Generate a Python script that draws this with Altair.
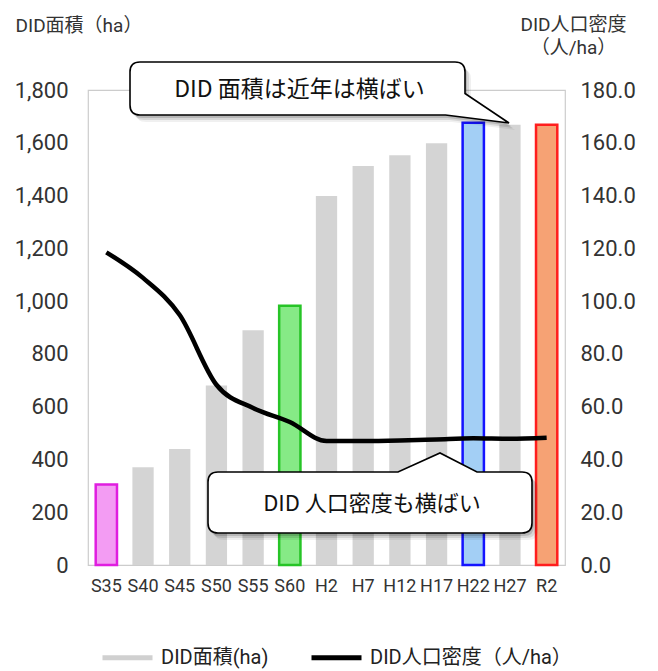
import altair as alt
import pandas as pd

# Survey years (Showa / Heisei / Reiwa)
periods = ["S35", "S40", "S45", "S50", "S55", "S60", "H2", "H7", "H12", "H17", "H22", "H27", "R2"]
# DID area (ha)
area = [305, 370, 440, 680, 890, 982, 1398, 1512, 1553, 1598, 1676, 1668, 1668]
# DID population density (persons/ha)
density = [118.5, 108.8, 94.7, 68.3, 59.5, 54.2, 47.0, 47.0, 47.2, 47.6, 48.0, 47.8, 48.2]

# Highlighted years get their own fill / outline
bar_fill = ["#f39cf3", "#d4d4d4", "#d4d4d4", "#d4d4d4", "#d4d4d4", "#86ea86", "#d4d4d4",
            "#d4d4d4", "#d4d4d4", "#d4d4d4", "#a3cff5", "#d4d4d4", "#f6a274"]
bar_stroke = ["#e01ee0", "#d4d4d4", "#d4d4d4", "#d4d4d4", "#d4d4d4", "#26c426", "#d4d4d4",
              "#d4d4d4", "#d4d4d4", "#d4d4d4", "#1414ff", "#d4d4d4", "#ff1e1e"]
bar_sw = [2.5, 0, 0, 0, 0, 2.5, 0, 0, 0, 0, 2.5, 0, 2.5]

area_label = "DID面積(ha)"
density_label = "DID人口密度（人/ha）"

df = pd.DataFrame({
    "period": periods,
    "area": area,
    "density": density,
    "fill": bar_fill,
    "stroke": bar_stroke,
    "sw": bar_sw,
    "series": density_label,
})

LABEL_FONT = "Roboto, Noto Sans CJK JP, sans-serif"
JP_FONT = "Noto Sans CJK JP, sans-serif"

x = alt.X(
    "period:N",
    sort=periods,
    scale=alt.Scale(paddingInner=0.42, paddingOuter=0.21),
    axis=alt.Axis(title=None, labelAngle=0, labelFontSize=18, labelFont=LABEL_FONT,
                  labelColor="#333333", labelPadding=12, ticks=False, domain=False),
)

bars = alt.Chart(df).mark_bar().encode(
    x=x,
    y=alt.Y(
        "area:Q",
        scale=alt.Scale(domain=[0, 1800], nice=False),
        axis=alt.Axis(
            orient="left", values=list(range(0, 1801, 200)), format=",d",
            labelFontSize=22, labelFont=LABEL_FONT, labelColor="#333333",
            labelPadding=20, ticks=False, domain=False, grid=False,
            title="DID面積（ha）", titleAngle=0, titleX=-73, titleY=-65,
            titleAlign="left", titleBaseline="middle", titleFontSize=19,
            titleFont=LABEL_FONT, titleFontWeight="normal", titleColor="#333333",
        ),
    ),
    fill=alt.Fill("fill:N", scale=None),
    stroke=alt.Stroke("stroke:N", scale=None),
    strokeWidth=alt.StrokeWidth("sw:Q", scale=None),
)

line = alt.Chart(df).mark_line(strokeWidth=4.5, interpolate="monotone").encode(
    x=x,
    y=alt.Y(
        "density:Q",
        scale=alt.Scale(domain=[0, 180], nice=False),
        axis=alt.Axis(
            orient="right", values=list(range(0, 181, 20)), format=".1f",
            labelFontSize=22, labelFont=LABEL_FONT, labelColor="#333333",
            labelPadding=15, ticks=False, domain=False, grid=False,
            title=["DID人口密度", "（人/ha）"], titleAngle=0, titleX=8, titleY=-75,
            titleAlign="center", titleBaseline="top", titleFontSize=19,
            titleLineHeight=23, titleFont=LABEL_FONT, titleFontWeight="normal",
            titleColor="#333333",
        ),
    ),
    color=alt.Color(
        "series:N",
        scale=alt.Scale(domain=[area_label, density_label], range=["#d0d0d0", "#000000"]),
        legend=alt.Legend(
            title=None, orient="none", direction="horizontal", legendX=12, legendY=540,
            symbolType="stroke", symbolSize=2500, symbolStrokeWidth=5,
            labelFontSize=20, labelFont=LABEL_FONT, labelColor="#222222",
            labelOffset=6, columnPadding=32, labelLimit=400, padding=0,
        ),
    ),
)

# Callout outlines, drawn in pixels around each box centre (size=4 -> 1 unit = 1 px)
top_box = ("M -157.5 -26.5 L 157.5 -26.5 Q 167.5 -26.5 167.5 -16.5 L 167.5 5 "
           "L 211.5 34.5 L 148 26.5 L -157.5 26.5 Q -167.5 26.5 -167.5 16.5 "
           "L -167.5 -16.5 Q -167.5 -26.5 -157.5 -26.5 Z")
bottom_box = ("M -152 -30.5 L 28 -30.5 L 70 -49.5 L 107 -30.5 L 152 -30.5 "
              "Q 162 -30.5 162 -20.5 L 162 20.5 Q 162 30.5 152 30.5 L -152 30.5 "
              "Q -162 30.5 -162 20.5 L -162 -20.5 Q -162 -30.5 -152 -30.5 Z")


def callout(path, cx, cy, text, fs):
    base = alt.Chart(df.head(1))
    layers = []
    for dx, dy, op in [(6, 7, 0.06), (4, 5, 0.10), (2, 3, 0.14)]:
        layers.append(base.mark_point(shape=path, size=4, filled=True, fill="#000000",
                                      strokeWidth=0, opacity=op)
                      .encode(x=alt.value(cx + dx), y=alt.value(cy + dy)))
    layers.append(base.mark_point(shape=path, size=4, filled=True, fill="white",
                                  stroke="black", strokeWidth=1.6, opacity=1)
                  .encode(x=alt.value(cx), y=alt.value(cy)))
    layers.append(base.mark_text(text=text, font=JP_FONT, fontSize=fs, color="#111111",
                                 align="center", baseline="middle")
                  .encode(x=alt.value(cx + 2), y=alt.value(cy + 1)))
    return layers


notes = (callout(top_box, 209.5, -1.5, "DID 面積は近年は横ばい", 23)
         + callout(bottom_box, 282, 412.5, "DID 人口密度も横ばい", 22))

chart = alt.layer(bars, line, *notes).resolve_scale(y="independent").properties(
    width=477,
    height=475,
    autosize=alt.AutoSizeParams(type="none"),
    padding={"left": 88, "top": 90, "right": 93, "bottom": 106},
    background="white",
).configure_view(stroke="#cccccc", strokeWidth=1.2)

chart.save("out.html", embed_options={"renderer": "svg", "actions": False})
